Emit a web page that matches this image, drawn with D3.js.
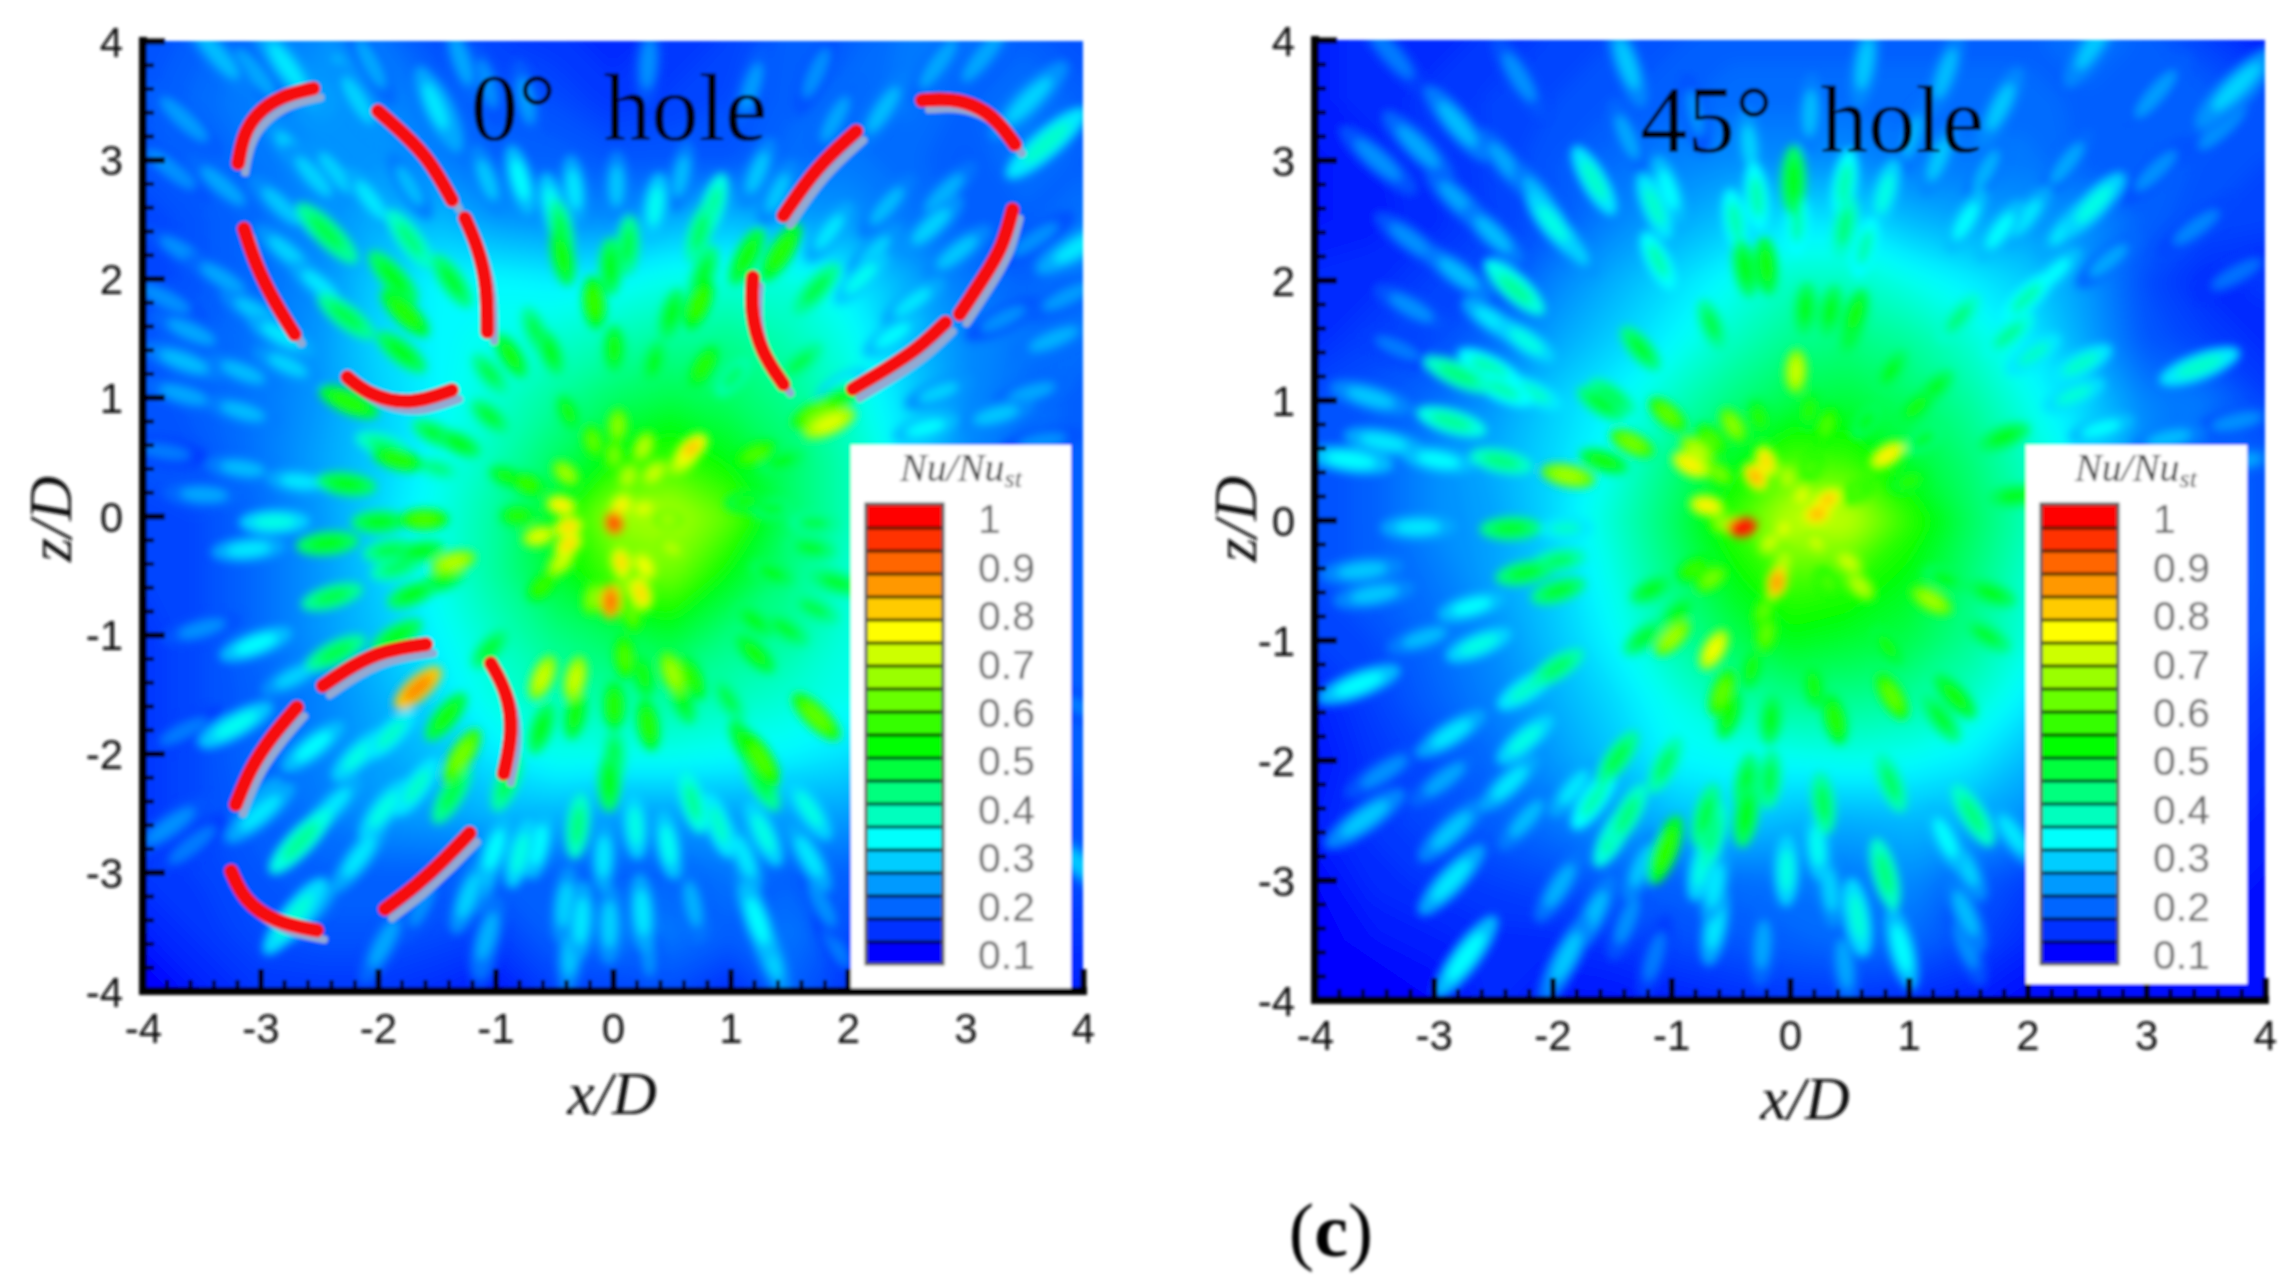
<!DOCTYPE html>
<html>
<head>
<meta charset="utf-8">
<script src="https://cdn.jsdelivr.net/npm/d3@7"></script>
<style>
html, body { margin: 0; background: #fff; }
svg { display: block; }
</style>
</head>
<body>
<script>
// axis ticks and legend labels
var axisTicks = [-4, -3, -2, -1, 0, 1, 2, 3, 4];
var minorTicks = [-3.8, -3.6, -3.4, -3.2, -2.8, -2.6, -2.4, -2.2, -1.8, -1.6, -1.4, -1.2, -0.8, -0.6, -0.4, -0.2, 0.2, 0.4, 0.6, 0.8, 1.2, 1.4, 1.6, 1.8, 2.2, 2.4, 2.6, 2.8, 3.2, 3.4, 3.6, 3.8];
var legendLabels = [1, 0.9, 0.8, 0.7, 0.6, 0.5, 0.4, 0.3, 0.2, 0.1];

// coarse Nu/Nu_st, rows z=4..-4, cols x=-4..4, step 0.5
var field0 = [
  [.18,.20,.22,.24,.22,.18,.17,.16,.15,.16,.17,.20,.20,.22,.22,.20,.18],
  [.19,.21,.23,.26,.24,.21,.19,.18,.16,.17,.18,.20,.21,.22,.20,.22,.20],
  [.19,.20,.22,.24,.25,.23,.20,.20,.19,.19,.19,.21,.22,.21,.19,.22,.20],
  [.17,.19,.21,.24,.27,.28,.25,.24,.24,.27,.28,.26,.25,.22,.20,.20,.22],
  [.17,.19,.21,.24,.30,.34,.34,.33,.34,.36,.37,.37,.33,.27,.22,.20,.22],
  [.19,.20,.22,.25,.31,.34,.36,.38,.40,.42,.43,.40,.36,.29,.24,.22,.21],
  [.18,.20,.22,.25,.30,.34,.38,.42,.46,.48,.46,.43,.38,.31,.24,.21,.20],
  [.19,.19,.22,.26,.30,.35,.40,.46,.53,.58,.52,.46,.40,.33,.24,.21,.20],
  [.17,.18,.21,.25,.31,.36,.42,.52,.68,.70,.62,.46,.40,.34,.24,.20,.20],
  [.17,.18,.21,.25,.30,.36,.42,.50,.60,.64,.52,.44,.38,.34,.24,.20,.20],
  [.16,.18,.21,.25,.29,.34,.39,.44,.47,.50,.44,.42,.37,.34,.24,.20,.20],
  [.16,.18,.20,.23,.27,.32,.37,.40,.42,.42,.40,.38,.36,.34,.24,.20,.20],
  [.16,.18,.21,.23,.26,.29,.33,.36,.36,.36,.35,.34,.32,.28,.22,.20,.20],
  [.16,.18,.20,.22,.25,.26,.28,.28,.26,.26,.26,.26,.26,.22,.20,.18,.18],
  [.16,.17,.19,.20,.20,.20,.20,.20,.20,.20,.22,.20,.20,.18,.18,.18,.18],
  [.14,.16,.18,.19,.19,.18,.17,.20,.22,.22,.20,.22,.18,.16,.16,.16,.16],
  [.10,.14,.16,.16,.16,.15,.13,.17,.17,.18,.15,.20,.16,.14,.14,.14,.14]
];
var field45 = [
  [.14,.15,.15,.16,.17,.18,.19,.20,.20,.20,.20,.20,.20,.22,.20,.17,.14],
  [.14,.15,.16,.17,.18,.19,.20,.21,.21,.21,.21,.21,.21,.20,.20,.20,.18],
  [.13,.14,.16,.17,.19,.21,.23,.24,.24,.24,.22,.22,.22,.20,.20,.19,.18],
  [.13,.14,.15,.17,.19,.23,.26,.29,.32,.32,.28,.26,.25,.24,.20,.18,.17],
  [.15,.15,.17,.18,.23,.27,.31,.35,.39,.39,.36,.33,.30,.25,.18,.15,.16],
  [.15,.17,.18,.21,.26,.30,.34,.39,.43,.44,.42,.38,.33,.26,.19,.17,.15],
  [.18,.19,.21,.25,.30,.34,.39,.44,.48,.49,.46,.42,.36,.30,.23,.22,.17],
  [.18,.20,.24,.27,.31,.36,.44,.51,.60,.58,.50,.45,.39,.33,.24,.20,.19],
  [.18,.20,.24,.26,.31,.38,.46,.58,.72,.72,.58,.47,.40,.34,.24,.20,.19],
  [.18,.20,.22,.26,.30,.36,.44,.52,.60,.58,.52,.45,.38,.33,.24,.20,.19],
  [.17,.18,.21,.24,.29,.34,.41,.47,.52,.50,.48,.43,.37,.30,.22,.20,.18],
  [.14,.17,.20,.23,.27,.31,.36,.41,.43,.43,.42,.39,.33,.25,.20,.18,.16],
  [.13,.16,.18,.21,.25,.29,.34,.35,.35,.36,.35,.33,.28,.22,.18,.16,.15],
  [.14,.16,.18,.20,.22,.25,.28,.30,.28,.27,.28,.27,.24,.20,.17,.15,.14],
  [.12,.15,.16,.17,.18,.20,.20,.21,.22,.22,.24,.20,.17,.15,.14,.14,.13],
  [.11,.13,.14,.15,.15,.16,.18,.19,.20,.21,.21,.18,.15,.14,.13,.13,.12],
  [.08,.10,.12,.15,.13,.13,.14,.15,.16,.16,.15,.14,.12,.12,.12,.12,.12]
];

// local spots and streaks: [x/D, z/D, Nu/Nu_st]
var spots0 = [
  [-2.77,3.78,.30],[-2.25,3.67,.28],[-2.17,3.5,.28],[-1.45,3.39,.30],[-.79,2.83,.32],[-.33,2.75,.30],[1.23,2.89,.27],[3.54,3.5,.28],[3.69,3.14,.36],[2.3,3.42,.26],[2.82,2.72,.25],[3.97,2.27,.30],[2.93,2.22,.27],[2.22,2.22,.28],[-2.71,3.06,.28],[-2.36,2.89,.28],[-3.04,1.72,.27],[-3.59,1.55,.24],[-3.65,1.3,.26],[-3.15,1.21,.26],[-2.77,1.27,.28],[3.75,1.49,.25],[3.26,.85,.27],[3.56,1.04,.24],[.85,2.61,.40],[1.84,2.39,.30],[.74,2.39,.44],
  [-2.44,2.39,.46],[-1.73,2.33,.42],[-2.88,-.05,.34],[-3.1,-.28,.30],[-3.04,-1.08,.32],[-3.21,-1.76,.33],[-.79,-2.84,.34],[-1.01,-2.81,.32],[-.27,-3.41,.30],[-.03,-3.44,.28],[.25,-3.34,.30],[1.23,-3.41,.32],[1.34,-3.7,.28],[-2.66,-2.74,.40],[-2.16,-2.87,.30],[-2.71,-3.37,.35],[-1.07,-3.54,.25],[-1.23,-3.2,.28],[-1.95,-3.6,.24],[.47,-2.77,.33],[.9,-2.6,.36],[1.28,-2.67,.34],[-3.77,-2.61,.22],[-3.0,-2.5,.30],[-.36,-3.67,.27],[.68,-2.41,.40],[-.3,-2.61,.42],[-1.37,-2.34,.46],[-.9,-2.24,.45],[-.03,-2.24,.50],[1.26,-2.24,.46],
  [-1.87,2.01,.50],[-1.77,1.71,.54],[-2.27,1.68,.46],[-1.80,1.38,.50],[-1.37,1.98,.48],[-2.42,2.37,.44],[-.43,2.19,.52],[-.44,2.40,.46],[.13,2.28,.46],[-.02,2.10,.50],[-.16,1.80,.56],[.50,1.70,.50],[.73,1.79,.56],[1.14,2.19,.52],[1.43,2.22,.54],[.77,2.04,.48],[1.73,1.91,.46],[-.87,1.35,.52],[-.53,1.38,.50],[.01,1.41,.52],[.35,1.29,.50],[.77,1.26,.54],[-1.05,1.20,.46],[-.66,1.56,.46],[1.59,1.29,.46],[1.02,1.17,.44],[-2.25,.96,.54],[-1.05,.84,.48],[-1.51,.69,.48],[-1.31,.61,.50],[-1.83,.48,.54],[-1.96,.60,.42],[-2.27,.27,.50],[-1.49,.40,.42],[-.38,.87,.52],[.04,.76,.64],[-.17,.63,.60],[.26,.58,.68],[.67,.57,.80],[.59,.45,.70],[.01,.51,.62],[-.40,.36,.66],[.35,.36,.70],[.13,.33,.68],[-.90,.33,.52],[-.73,.27,.56],[1.21,.52,.58],[1.44,.46,.50],[1.84,.78,.72],[1.73,.87,.60],[1.87,.96,.52],[1.12,.12,.52],[1.35,.06,.48],[1.71,-.06,.46],[1.68,-.27,.48],
  [-.44,.09,.76],[-.38,-.09,.78],[-.63,-.17,.72],[-.38,-.24,.78],[.01,-.06,.92],[.07,.09,.76],[.26,.06,.72],[.47,-.03,.66],[.50,-.27,.68],[-.44,-.39,.70],[-.81,0,.54],[-1.61,-.03,.58],[-1.99,-.05,.50],[-2.43,-.23,.50],[-1.90,-.29,.46],[-1.64,-.30,.50],[-1.36,-.39,.68],[-1.84,-.44,.44],[.07,-.39,.78],[.27,-.42,.74],[.24,-.65,.78],[-.02,-.72,.88],[-.17,-.69,.64],[.16,-.82,.60],[.10,-.57,.64],[-.60,-.59,.56],[-1.45,-.54,.50],[-1.71,-.66,.50],[-2.39,-.68,.46],[1.35,-.48,.50],[1.90,-.56,.48],[1.71,-.78,.46],[1.20,-.88,.50],[1.47,-.95,.48],[1.21,-1.16,.52],[-2.36,-1.15,.46],[-1.84,-1.01,.50],[-1.05,-1.12,.48],[-1.66,-1.45,.86],[-1.42,-1.69,.52],[-.60,-1.36,.70],[-.32,-1.37,.70],[.10,-1.19,.58],[.26,-1.34,.52],[.51,-1.33,.66],[.67,-1.36,.54],[.01,-1.60,.54],[-.32,-1.67,.52],[.59,-1.55,.50],[.98,-1.54,.46],[-.61,-1.79,.50],[.30,-1.76,.54],[1.73,-1.69,.60],[-1.29,-2.02,.62],[1.14,-1.94,.52],[1.26,-2.05,.58],[.01,-2.02,.46]
];
var streaks0 = [
  [-3.37,3.89,.26],[-3.04,3.73,.24],[-2.06,3.81,.24],[-1.29,3.84,.24],[-1.07,3.64,.22],[-1.51,3.45,.30],[-.74,3.5,.23],[.3,3.81,.22],[1.18,3.61,.23],[1.89,3.34,.24],[2.77,3.81,.24],[3.15,3.87,.24],[1.73,3.73,.22],[-3.65,3.34,.23],[-3.76,2.92,.22],[-3.32,2.78,.24],[-2.82,2.61,.27],[-2.55,2.86,.28],[-2.06,2.66,.30],[-1.73,2.78,.26],[-1.07,2.83,.27],[-.52,2.61,.33],[.03,2.78,.27],[.36,2.61,.33],[.58,2.86,.26],[1.4,2.72,.27],[2.33,2.61,.26],[2.71,2.44,.28],[2.11,2.0,.33],[2.55,1.8,.30],[2.38,1.52,.32],[3.59,2.33,.22],[3.87,1.85,.23],[3.32,1.66,.22],[1.95,1.1,.34],[2.77,1.04,.28],[3.65,.63,.22],[2.66,.74,.32],[-3.65,2.22,.22],[-3.81,1.83,.22],[-3.32,2.0,.24],[-2.77,2.22,.28],[-2.49,1.94,.30],[-2.82,1.52,.30],[-3.15,.88,.26],[-3.65,1.02,.24],[-3.81,.54,.20],[-3.15,.4,.26],[-2.66,.29,.30],[-3.48,.18,.24],
  [-3.5,-.95,.22],[-3.65,-1.81,.20],[-2.71,-1.35,.28],[-2.55,-1.94,.32],[-2.16,-2.01,.34],[-1.89,-1.84,.36],[-2.99,-2.34,.24],[-2.38,-2.44,.30],[-1.95,-2.47,.34],[-1.67,-2.28,.36],[-3.58,-2.77,.20],[-2.5,-3.27,.24],[-1.07,-3.04,.26],[-1.62,-3.27,.22],[-.63,-2.77,.32],[-.08,-2.87,.30],[.19,-2.61,.34],[1.12,-2.87,.30],[1.67,-2.87,.30],[1.67,-2.47,.34],[1.18,-3.27,.27],[.68,-3.27,.25],[-.41,-3.27,.28],[.3,-3.67,.22],[-1.07,-3.7,.20],[1.78,-3.27,.22],[1.89,-3.6,.20],[3.98,-2.94,.27],[3.98,-1.61,.20]
];
var spots45 = [
  [.63,3.8,.27],[1.31,3.72,.26],[2.56,3.97,.27],[-1.37,3.8,.27],[1.77,3.44,.27],[3.76,3.55,.25],[3.08,3.55,.23],[-2.28,3.69,.22],[-2.8,3.3,.26],[-3.13,3.11,.24],[-1.65,2.83,.36],[-2.0,2.47,.34],[-1.02,2.75,.32],[-1.14,2.61,.36],[.03,2.83,.50],[-.28,2.69,.38],[.46,2.8,.38],[.8,2.72,.34],[2.56,2.63,.34],[1.99,2.52,.30],[1.77,2.41,.32],[-.46,2.49,.38],[.06,2.47,.38],[.46,2.44,.42],[.63,2.27,.38],[-1.82,2.27,.28],[-2.33,1.96,.38],[1.99,1.85,.38],[2.05,1.38,.36],[2.45,1.3,.36],[3.45,1.28,.36],[-2.79,1.21,.42],[-2.53,1.27,.38],[-2.85,.82,.40],[-2.96,.5,.32],[-3.7,.5,.32],[-3.13,-.06,.30],[-3.6,-.42,.27],[-3.5,-.62,.27],[-2.62,-1.04,.34],[-3.63,-1.37,.32],[-2.85,-1.78,.30],[-1.65,-2.33,.38],[-1.37,-2.46,.42],[-.71,-2.46,.46],[-.37,-2.46,.50],[-.37,-2.19,.48],[-.17,-2.16,.46],[.85,-2.19,.44],[.28,-2.36,.45],[1.54,-2.46,.42],[-1.05,-2.75,.55],[-.65,-2.62,.42],[-1.48,-2.62,.40],[-2.36,-2.19,.30],[-3.58,-2.49,.27],[-2.85,-2.59,.27],[-.03,-2.92,.34],[.8,-2.95,.42],[-.74,-2.88,.34],[-2.85,-3.0,.30],[.57,-3.31,.35],[-.63,-3.38,.30],[.94,-3.57,.32],[-2.73,-3.64,.32],[-1.88,-3.64,.27],[-1.65,-3.28,.26],[1.48,-3.28,.26],
  [-.38,2.10,.50],[-.20,2.12,.52],[-.66,1.63,.46],[.13,1.76,.50],[.34,1.74,.50],[.55,1.71,.52],[.52,1.57,.50],[-1.26,1.43,.48],[.05,1.24,.70],[-1.59,.97,.48],[-1.50,1.03,.46],[-1.03,.88,.60],[-.48,.79,.64],[-.26,.85,.54],[.16,.91,.54],[.31,.79,.58],[-.66,.67,.58],[1.06,.94,.52],[1.21,1.09,.50],[.85,1.24,.50],[.64,.82,.50],[-1.33,.64,.62],[-1.57,.49,.52],[-1.87,.37,.66],[-.84,.46,.76],[-.78,.58,.68],[-.20,.49,.78],[-.29,.36,.82],[-.02,.35,.68],[-.60,.39,.62],[.17,.43,.58],[.82,.54,.76],[1.12,.67,.48],[1.80,.69,.50],[-.70,.12,.76],[-.54,-.03,.66],[-.40,-.06,1.0],[.10,.20,.72],[.32,.17,.80],[.23,.05,.82],[-.05,-.07,.72],[.22,-.19,.70],[-.17,-.19,.70],[.55,.23,.58],[1.89,.20,.50],[1.0,.32,.54],[-2.35,-.07,.48],[-1.89,-.07,.36],[.49,-.35,.70],[-.11,-.52,.84],[-.05,-.34,.68],[-.66,-.49,.62],[-.81,-.41,.56],[.59,-.55,.68],[.32,-.52,.58],[-2.23,-.44,.48],[-1.95,-.34,.44],[-1.95,-.59,.48],[-1.17,-.58,.50],[1.19,-.67,.66],[1.30,-.49,.50],[1.69,-.61,.50],[-.22,-.77,.60],[-.20,-.95,.60],[-.99,-.98,.66],[-.64,-1.08,.74],[-.94,-.77,.50],[-1.23,-.98,.48],[.82,-1.05,.52],[1.65,-.96,.48],[-.32,-1.23,.52],[-1.96,-1.23,.44],[-.57,-1.44,.60],[.20,-1.38,.52],[.86,-1.47,.60],[1.39,-1.47,.52],[-.51,-1.62,.52],[-.16,-1.66,.50],[.38,-1.66,.54],[1.27,-1.65,.48],[-2.22,-1.41,.36],[-2.23,-1.83,.34],[-1.45,-1.98,.46],[-1.05,-2.04,.44],[-2.31,1.92,.40],[-2.43,1.09,.38],[-2.16,1.06,.36],[-1.11,2.16,.38],[-2.43,.49,.42],[1.42,1.68,.42],[1.84,1.54,.40]
];
var streaks45 = [
  [-3.36,3.89,.20],[-3.47,3.0,.22],[-2.39,2.97,.24],[-2.11,2.69,.26],[-1.37,3.19,.24],[-.8,3.39,.22],[-.34,3.11,.28],[.17,3.39,.26],[1.03,3.19,.25],[1.25,3.0,.27],[1.65,2.91,.25],[2.33,2.97,.24],[3.08,2.91,.22],[3.64,3.27,.22],[3.76,3.61,.28],[1.48,2.49,.32],[2.33,2.44,.30],[2.68,2.16,.24],[2.22,2.05,.32],[3.42,2.44,.21],[3.76,2.05,.19],[-2.79,2.66,.24],[-3.19,2.33,.22],[-2.5,2.38,.26],[-2.79,2.05,.26],[-3.19,1.77,.22],[-2.5,1.66,.30],[-2.22,1.49,.34],[-3.53,1.02,.27],[-3.3,1.43,.20],[2.62,.76,.32],[2.39,1.04,.35],[3.19,.68,.26],[3.76,.82,.22],[3.76,.49,.24],[-3.42,.65,.30],
  [-3.08,-.98,.26],[-2.68,-.72,.32],[-3.42,-2.1,.22],[-2.91,-2.16,.24],[-2.22,-2.49,.26],[-1.82,-2.23,.30],[-1.94,-3.05,.25],[-1.25,-2.88,.27],[-1.37,-3.34,.22],[-.63,-3.05,.30],[.23,-2.72,.33],[.34,-3.08,.28],[1.31,-2.65,.32],[1.48,-2.88,.28],[1.88,-2.62,.30],[1.48,-3.54,.22],[.46,-3.7,.24],[-.23,-3.54,.24],[-1.14,-3.64,.20],[-1.94,-3.74,.22]
];

// red dashed outlines on the 0 deg panel, points in x/D, z/D
var outlines0 = [
  [[-2.55,3.6],[-2.82,3.54],[-3.04,3.39],[-3.15,3.2],[-3.19,2.97]],
  [[-2.0,3.41],[-1.78,3.22],[-1.56,3.0],[-1.37,2.66]],
  [[-1.26,2.51],[-1.15,2.27],[-1.07,1.94],[-1.07,1.55]],
  [[-3.14,2.42],[-3.04,2.11],[-2.88,1.8],[-2.71,1.53]],
  [[-2.26,1.17],[-2.08,1.02],[-1.73,.93],[-1.37,1.06]],
  [[2.63,3.5],[2.93,3.52],[3.23,3.39],[3.42,3.13]],
  [[2.07,3.24],[1.73,2.94],[1.45,2.53]],
  [[3.4,2.58],[3.32,2.27],[3.15,2.0],[2.95,1.7]],
  [[2.83,1.63],[2.6,1.41],[2.33,1.24],[2.04,1.07]],
  [[1.19,2.01],[1.17,1.72],[1.26,1.38],[1.45,1.11]],
  [[-1.59,-1.08],[-1.95,-1.13],[-2.22,-1.26],[-2.47,-1.43]],
  [[-1.04,-1.24],[-.9,-1.48],[-.85,-1.81],[-.93,-2.17]],
  [[-2.69,-1.61],[-2.91,-1.86],[-3.09,-2.13],[-3.21,-2.43]],
  [[-1.22,-2.67],[-1.45,-2.91],[-1.67,-3.11],[-1.94,-3.31]],
  [[-3.25,-2.99],[-3.14,-3.24],[-2.88,-3.42],[-2.52,-3.49]]
];

var W = 2294, H = 1286;
var color = d3.scaleLinear().domain([.104, .34, .53, .768, 1.006]).range(['#0000ff', '#00ffff', '#00ff00', '#ffff00', '#ff0000']).clamp(true);
var bandEdges = d3.range(21).map(function(i) { return .08 + i * .0475; });

var svg = d3.select('body').append('svg').attr('width', W).attr('height', H).attr('viewBox', [0, 0, W, H]);
var defs = svg.append('defs');
[['soft', 1.5], ['spot', 4.4], ['wide', 9]].forEach(function(f) {
  defs.append('filter').attr('id', f[0]).attr('x', '-10%').attr('y', '-10%').attr('width', '120%').attr('height', '120%')
    .append('feGaussianBlur').attr('stdDeviation', f[1]);
});
var root = svg.append('g').attr('filter', 'url(#soft)');

function panel(o) {
  var x = d3.scaleLinear().domain([-4, 4]).range([o.left, o.right]);
  var z = d3.scaleLinear().domain([-4, 4]).range([o.bottom, o.top]);
  var g = root.append('g');

  defs.append('clipPath').attr('id', 'clip' + o.id).append('rect')
    .attr('x', x(-4)).attr('y', z(4)).attr('width', x(4) - x(-4)).attr('height', z(-4) - z(4));
  var plot = g.append('g').attr('clip-path', 'url(#clip' + o.id + ')');

  // base field
  var nx = o.field[0].length, ny = o.field.length;
  var levels = d3.range(.06, 1.03, .012);
  var project = d3.geoPath(d3.geoTransform({
    point: function(cx, cy) {
      this.stream.point(x(-4 + (cx - .5) * .5), z(4 - (cy - .5) * .5));
    }
  }));
  plot.append('g').attr('filter', 'url(#wide)').selectAll('path')
    .data(d3.contours().size([nx, ny]).thresholds(levels)(o.field.flat()))
    .enter().append('path').attr('d', project).attr('fill', function(d) { return color(d.value); });

  // spots stretched along the radial jet direction
  var sorted = o.spots.concat(o.streaks).sort(function(a, b) { return a[2] - b[2]; });
  var sg = plot.append('g').attr('filter', 'url(#spot)');
  sg.selectAll('g').data(sorted).enter().append('g').each(function(d) {
    var r = Math.sqrt(d[0] * d[0] + d[1] * d[1]);
    var a = Math.atan2(z(d[1]) - z(0), x(d[0]) - x(0)) * 180 / Math.PI;
    var rx = x(.08 + .06 * r) - x(0), ry = x(.068 + .007 * r) - x(0);
    var s = d3.select(this).attr('transform', 'translate(' + x(d[0]) + ',' + z(d[1]) + ') rotate(' + a + ')');
    s.append('ellipse').attr('rx', rx * 1.2).attr('ry', ry * 1.2).attr('fill', color(d[2] - .04));
    s.append('ellipse').attr('rx', rx * .7).attr('ry', ry * .65).attr('fill', color(d[2] + .02));
  });

  // dashed outlines with their grey shadow
  var line = d3.line().x(function(d) { return x(d[0]); }).y(function(d) { return z(d[1]); }).curve(d3.curveBasis);
  if (o.outlines) {
    plot.append('g').attr('transform', 'translate(7,9)').selectAll('path').data(o.outlines).enter().append('path')
      .attr('d', line).attr('fill', 'none').attr('stroke', '#93a9d2').attr('stroke-width', 8).attr('stroke-linecap', 'round');
    plot.append('g').selectAll('path').data(o.outlines).enter().append('path')
      .attr('d', line).attr('fill', 'none').attr('stroke', '#f60a0a').attr('stroke-width', 14).attr('stroke-linecap', 'round');
  }

  // axes
  var font = 'Liberation Sans, Arial, sans-serif';
  function styleAxis(s, w) {
    s.select('.domain').remove();
    s.selectAll('line').attr('stroke', '#000').attr('stroke-width', w);
  }
  g.append('g').attr('transform', 'translate(' + x(-4) + ',0)')
    .call(d3.axisRight(z).tickValues(minorTicks).tickSize(11).tickFormat('')).call(styleAxis, 4);
  g.append('g').attr('transform', 'translate(0,' + z(-4) + ')')
    .call(d3.axisTop(x).tickValues(minorTicks).tickSize(11).tickFormat('')).call(styleAxis, 4);
  g.append('g').attr('transform', 'translate(' + x(-4) + ',0)')
    .call(d3.axisLeft(z).tickValues(axisTicks).tickSize(0).tickPadding(20).tickFormat(String))
    .call(styleAxis, 6)
    .call(function(s) { s.selectAll('text').attr('font-family', font).attr('font-size', 42).attr('fill', '#111').attr('dy', '.36em'); });
  g.append('g').attr('transform', 'translate(' + x(-4) + ',0)')
    .call(d3.axisRight(z).tickValues(axisTicks).tickSize(22).tickFormat('')).call(styleAxis, 6);
  g.append('g').attr('transform', 'translate(0,' + z(-4) + ')')
    .call(d3.axisBottom(x).tickValues(axisTicks).tickSize(0).tickPadding(o.tickPad).tickFormat(String))
    .call(styleAxis, 6)
    .call(function(s) { s.selectAll('text').attr('font-family', font).attr('font-size', 42).attr('fill', '#111'); });
  g.append('g').attr('transform', 'translate(0,' + z(-4) + ')')
    .call(d3.axisTop(x).tickValues(axisTicks).tickSize(22).tickFormat('')).call(styleAxis, 6);
  g.append('line').attr('x1', x(-4)).attr('x2', x(-4)).attr('y1', z(4) - 4).attr('y2', z(-4) + 4).attr('stroke', '#000').attr('stroke-width', 8);
  g.append('line').attr('x1', x(-4) - 4).attr('x2', x(4) + 4).attr('y1', z(-4)).attr('y2', z(-4)).attr('stroke', '#000').attr('stroke-width', 8);

  // legend
  var lg = g.append('g');
  lg.append('rect').attr('x', o.legendX).attr('y', 445).attr('width', o.legendW).attr('height', o.legendBottom - 445).attr('fill', '#fff');
  var barX = o.legendX + 15, barW = 77;
  var ly = d3.scaleLinear().domain([.08, 1.03]).range([964, 504]);
  lg.selectAll('rect.band').data(d3.pairs(bandEdges)).enter().append('rect').attr('class', 'band')
    .attr('x', barX).attr('width', barW)
    .attr('y', function(d) { return ly(d[1]); })
    .attr('height', function(d) { return ly(d[0]) - ly(d[1]); })
    .attr('fill', function(d) { return color((d[0] + d[1]) / 2); });
  lg.selectAll('line.edge').data(bandEdges.slice(1, -1)).enter().append('line').attr('class', 'edge')
    .attr('x1', barX).attr('x2', barX + barW)
    .attr('y1', function(d) { return ly(d) + 1; }).attr('y2', function(d) { return ly(d) + 1; })
    .attr('stroke', '#000').attr('stroke-opacity', .62).attr('stroke-width', 3.5);
  lg.append('rect').attr('x', barX).attr('y', ly(1.03)).attr('width', barW).attr('height', ly(.08) - ly(1.03))
    .attr('fill', 'none').attr('stroke', '#555').attr('stroke-width', 3);
  lg.selectAll('text.lab').data(legendLabels).enter().append('text').attr('class', 'lab')
    .attr('x', o.legendX + 127).attr('y', function(d) { return ly(d); }).attr('dy', '.36em')
    .attr('font-family', font).attr('font-size', 41).attr('fill', '#666').text(function(d) { return d; });
  var lt = lg.append('text').attr('x', o.legendX + 110).attr('y', 481).attr('text-anchor', 'middle')
    .attr('font-family', 'Liberation Serif, serif').attr('font-style', 'italic').attr('font-size', 40).attr('fill', '#333');
  lt.append('tspan').text('Nu/Nu');
  lt.append('tspan').attr('font-size', 26).attr('dy', 6).text('st');

  // titles
  var serif = 'Liberation Serif, Times New Roman, serif';
  g.append('text').attr('x', o.titleX).attr('y', o.titleY).attr('text-anchor', 'middle').style('white-space', 'pre')
    .attr('font-family', serif).attr('font-size', 95).attr('fill', '#000').text(o.title);
  g.append('text').attr('x', o.xLabelX).attr('y', o.xLabelY).attr('text-anchor', 'middle')
    .attr('font-family', serif).attr('font-style', 'italic').attr('font-size', 62).attr('fill', '#111').text('x/D');
  g.append('text').attr('transform', 'translate(' + o.zLabelX + ',519) rotate(-90)').attr('text-anchor', 'middle')
    .attr('font-family', serif).attr('font-style', 'italic').attr('font-size', 62).attr('fill', '#111').text('z/D');
}

panel({ id: 'a', left: 143, right: 1083, top: 41, bottom: 991, field: field0, spots: spots0, streaks: streaks0, outlines: outlines0, title: '0\u00b0  hole', titleX: 619, titleY: 140, xLabelX: 612, xLabelY: 1114, zLabelX: 71, tickPad: 22, legendX: 851, legendW: 220, legendBottom: 988 });
panel({ id: 'b', left: 1315, right: 2265, top: 40, bottom: 1000, field: field45, spots: spots45, streaks: streaks45, title: '45\u00b0  hole', titleX: 1812, titleY: 152, xLabelX: 1805, xLabelY: 1119, zLabelX: 1256, tickPad: 20, legendX: 2026, legendW: 221, legendBottom: 984 });

var cap = root.append('text').attr('x', 1331).attr('y', 1256).attr('text-anchor', 'middle')
  .attr('font-family', 'Liberation Serif, Times New Roman, serif').attr('font-size', 76).attr('fill', '#000');
cap.append('tspan').text('(');
cap.append('tspan').attr('font-weight', 'bold').text('c');
cap.append('tspan').text(')');
</script>
</body>
</html>
